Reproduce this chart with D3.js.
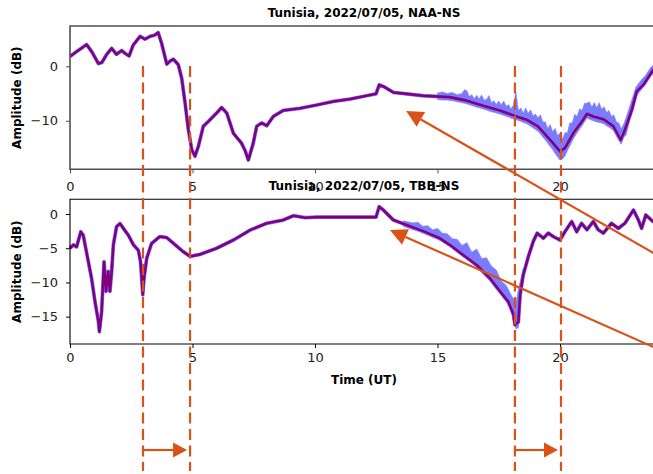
<!DOCTYPE html>
<html>
<head>
<meta charset="utf-8">
<script src="https://cdn.jsdelivr.net/npm/d3@7"></script>
<style>
  html, body { margin: 0; padding: 0; background: #fff; }
  svg { display: block; font-family: 'DejaVu Sans', sans-serif; }
</style>
</head>
<body>
<div class="js-chart"></div>
<script>
'use strict';

// NAA-NS, smoothed amplitude [UT hour, dB]
var naaSmooth = [
    [0, 1.8], [0.3, 2.8], [0.68, 4.0], [0.9, 2.6], [1.16, 0.5], [1.3, 0.7], [1.5, 2.2], [1.7, 3.3],
    [1.9, 2.2], [2.11, 2.9], [2.24, 2.4], [2.41, 1.9], [2.58, 3.9], [2.86, 5.5], [3.06, 5.0], [3.27, 5.5],
    [3.45, 5.7], [3.6, 6.2], [3.74, 4.2], [3.95, 0.4], [4.1, 1.0], [4.22, 1.3], [4.42, 0.3], [4.56, -2.2],
    [4.69, -6.5], [4.83, -11.6], [4.97, -15.3], [5.1, -16.5], [5.24, -14.7], [5.44, -11], [5.65, -10.1],
    [5.85, -9.2], [6.0, -8.5], [6.19, -7.55], [6.4, -8.6], [6.67, -12.3], [7.0, -14.1], [7.15, -15.5],
    [7.28, -17.2], [7.48, -14.1], [7.62, -11], [7.82, -10.4], [8.03, -10.9], [8.3, -9.2], [8.71, -8.1],
    [9.39, -7.7], [10.07, -7.1], [10.75, -6.45], [11.43, -6.0], [12.1, -5.4], [12.49, -5.05], [12.62, -3.4],
    [12.79, -3.7], [13.2, -4.8], [13.74, -5.05], [14.42, -5.4], [15.5, -5.65], [16.2, -6.3], [16.87, -7.25],
    [17.55, -8.1], [18.16, -9.1], [18.64, -9.8], [19.1, -11], [19.6, -13.5], [20.0, -15.6], [20.2, -15.0],
    [20.54, -12.3], [20.9, -10.1], [21.1, -8.7], [21.36, -9.2], [21.77, -9.7], [22.18, -11], [22.48, -13.5],
    [22.65, -11.65], [22.93, -8], [23.13, -4.6], [23.4, -3.4], [23.8, -0.65], [24, 0.2]
];

// NAA-NS, raw data spread where it is noisy [UT hour, low dB, high dB]
var naaRaw = [
    [15.0, -6.1, -4.9], [15.2, -6.2, -4.7], [15.4, -6.2, -5.0], [15.6, -6.3, -4.8], [15.8, -6.5, -5.2],
    [16.0, -6.7, -5.0], [16.1, -6.8, -4.3], [16.2, -6.9, -4.5], [16.3, -7.05, -5.55], [16.4, -7.2, -5.2],
    [16.5, -7.35, -5.95], [16.6, -7.5, -5.3], [16.7, -7.6, -6.0], [16.8, -7.75, -5.25], [16.9, -7.9, -6.2],
    [17.0, -8.0, -6.1], [17.1, -8.2, -5.35], [17.2, -8.35, -6.7], [17.3, -8.45, -6.3], [17.4, -8.55, -7.0],
    [17.5, -8.7, -6.35], [17.6, -8.85, -7.1], [17.7, -9.0, -6.35], [17.8, -9.15, -7.3], [17.9, -9.3, -7.05],
    [18.0, -9.5, -7.85], [18.1, -9.65, -7.1], [18.2, -9.8, -4.65], [18.3, -9.95, -8.1], [18.4, -10.1, -7.65],
    [18.5, -10.3, -8.6], [18.6, -10.45, -7.65], [18.7, -10.7, -8.65], [18.8, -11.0, -8.0], [18.9, -11.3, -9.1],
    [19.0, -11.6, -8.75], [19.1, -11.9, -9.5], [19.2, -12.4, -8.9], [19.3, -13.0, -10.2], [19.4, -13.5, -10.2],
    [19.5, -14.1, -11.4], [19.6, -14.7, -10.7], [19.7, -15.3, -12.0], [19.8, -16.0, -11.4], [19.9, -16.6, -12.7],
    [20.0, -17.2, -12.3], [20.1, -17.0, -13.4], [20.2, -16.5, -12.2], [20.3, -15.5, -12.2], [20.4, -14.6, -10.4],
    [20.5, -13.7, -10.4], [20.6, -12.9, -8.8], [20.7, -12.2, -9.2], [20.8, -11.5, -7.8], [20.9, -10.9, -8.1],
    [21.0, -10.2, -6.8], [21.1, -9.5, -6.8], [21.2, -9.7, -6.5], [21.3, -9.9, -7.5], [21.4, -10.05, -6.65],
    [21.5, -10.2, -7.6], [21.6, -10.3, -6.7], [21.7, -10.4, -7.9], [21.8, -10.6, -7.4], [21.9, -10.9, -8.5],
    [22.0, -11.2, -8.1], [22.1, -11.5, -9.2], [22.2, -11.9, -8.9], [22.3, -12.8, -10.2], [22.4, -13.6, -10.4],
    [22.5, -14.3, -11.5], [22.6, -13.0, -10.6], [22.7, -12.6, -9.4], [22.9, -9.0, -6.6], [23.1, -5.6, -3.8],
    [23.3, -4.4, -2.6], [23.5, -3.2, -1.6], [23.7, -1.8, -0.2], [24.0, -0.5, 0.9]
];

// TBB-NS, smoothed amplitude [UT hour, dB]
var tbbSmooth = [
    [0, -5.0], [0.14, -4.5], [0.27, -4.8], [0.44, -2.6], [0.54, -3.1], [0.68, -5.7], [0.88, -9.4],
    [1.02, -12.8], [1.16, -15.7], [1.2, -17.2], [1.29, -14.3], [1.39, -7.0], [1.47, -11.3], [1.56, -8.4],
    [1.63, -11.3], [1.7, -8.4], [1.77, -4.5], [1.9, -1.85], [2.04, -1.4], [2.18, -2.1], [2.38, -3.1],
    [2.59, -4.5], [2.79, -5.3], [2.88, -7.0], [2.97, -11.8], [3.02, -9.4], [3.13, -6.5], [3.33, -4.3],
    [3.67, -3.3], [3.95, -3.45], [4.29, -4.5], [4.62, -5.5], [4.9, -6.2], [5.31, -5.9], [5.99, -5.0],
    [6.67, -3.8], [7.35, -2.35], [8.03, -1.36], [8.7, -0.88], [9.12, -0.25], [9.6, -0.54], [10.07, -0.45],
    [10.75, -0.45], [11.43, -0.45], [12.04, -0.45], [12.49, -0.45], [12.62, 1.07], [12.79, 0.58],
    [13.2, -0.88], [13.74, -1.6], [14.42, -2.5], [15.1, -3.55], [15.5, -4.5], [16.05, -6.0], [16.6, -7.45],
    [17.14, -9.4], [17.55, -11.3], [17.89, -12.8], [18.1, -14.7], [18.16, -16.2], [18.3, -15.8],
    [18.37, -11.8], [18.5, -8.9], [18.71, -6.2], [18.91, -4.0], [19.07, -2.8], [19.32, -3.55], [19.52, -2.8],
    [19.73, -3.3], [20.0, -3.8], [20.2, -2.6], [20.48, -1.1], [20.68, -2.6], [20.88, -1.36], [21.1, -2.3],
    [21.36, -1.1], [21.56, -2.3], [21.77, -2.8], [22.1, -1.36], [22.38, -2.1], [22.65, -1.36], [23.0, 0.58],
    [23.2, -0.88], [23.33, -2.1], [23.5, -0.15], [23.8, -1.1], [24, -0.8]
];

// TBB-NS, raw data spread where it is noisy [UT hour, low dB, high dB]
var tbbRaw = [
    [13.6, -1.8, -1.0], [14.0, -2.3, -1.3], [14.2, -2.5, -1.2], [14.4, -2.8, -1.8], [14.6, -3.1, -1.7],
    [14.8, -3.4, -2.3], [15.0, -3.7, -2.1], [15.2, -4.0, -2.8], [15.4, -4.4, -2.9], [15.6, -4.9, -3.6],
    [15.8, -5.4, -3.7], [16.0, -6.1, -4.6], [16.2, -6.6, -4.2], [16.4, -7.2, -5.6], [16.6, -7.8, -5.1],
    [16.8, -8.5, -6.5], [17.0, -9.2, -6.4], [17.2, -10.0, -7.6], [17.4, -11.0, -8.2], [17.6, -11.8, -9.8],
    [17.8, -12.8, -10.4], [18.0, -14.0, -11.8], [18.1, -15.5, -12.4], [18.2, -16.8, -13.0],
    [18.3, -16.6, -11.0], [18.4, -13.0, -9.5], [18.5, -9.6, -8.0]
];

var xTicks = [0, 5, 10, 15, 20];
var naaTicks = [0, -10];
var tbbTicks = [0, -5, -10, -15];

// event window edges (UT hour)
var markers = [2.98, 4.9, 18.16, 20.04];
var windows = [[2.98, 4.9], [18.16, 20.04]];

var orange = '#D95319', purple = '#800080', blue = '#7b7bff';

var svg = d3.select('.js-chart').append('svg')
    .attr('width', 653)
    .attr('height', 474);

var x = d3.scaleLinear().domain([0, 24]).range([70, 658]);

var panels = [
    {title: 'Tunisia, 2022/07/05, NAA-NS', smooth: naaSmooth, raw: naaRaw, ticks: naaTicks,
        y: d3.scaleLinear().domain([-18.9, 7.4]).range([169.3, 26]), spine: '#505050', pad: 8},
    {title: 'Tunisia, 2022/07/05, TBB-NS', smooth: tbbSmooth, raw: tbbRaw, ticks: tbbTicks,
        y: d3.scaleLinear().domain([-19.0, 2.15]).range([344, 199.3]), spine: '#000', pad: 5}
];

panels.forEach(function (p, i) {
    var y = p.y;
    var top = y.range()[1], bottom = y.range()[0];
    var g = svg.append('g').attr('class', 'panel-' + i);

    //raw data halo and noisy spread
    var line = d3.line().x(function (d) { return x(d[0]); }).y(function (d) { return y(d[1]); });
    g.append('path').datum(p.smooth)
        .attr('d', line)
        .style('fill', 'none')
        .style('stroke', blue)
        .style('stroke-width', 3.8)
        .style('stroke-linejoin', 'round');
    g.append('path').datum(p.raw)
        .attr('d', d3.area()
            .x(function (d) { return x(d[0]); })
            .y0(function (d) { return y(d[1]); })
            .y1(function (d) { return y(d[2]); }))
        .style('fill', blue)
        .style('stroke', blue)
        .style('stroke-width', 0.6);

    //smoothed curve
    g.append('path').datum(p.smooth)
        .attr('d', line)
        .style('fill', 'none')
        .style('stroke', purple)
        .style('stroke-width', 2.6)
        .style('stroke-linejoin', 'round');

    //axes
    var xa = g.append('g').attr('transform', 'translate(0,' + bottom + ')')
        .call(d3.axisBottom(x).tickValues(xTicks).tickSize(4).tickPadding(p.pad).tickSizeOuter(0));
    var ya = g.append('g').attr('transform', 'translate(70,0)')
        .call(d3.axisLeft(y).tickValues(p.ticks).tickSize(4).tickPadding(8).tickSizeOuter(0));
    [xa, ya].forEach(function (a) {
        a.select('.domain').remove();
        a.selectAll('line').style('stroke', p.spine).style('stroke-width', 1);
        a.selectAll('text').style('font-size', '13px').style('fill', '#222')
            .style('font-family', "'DejaVu Sans', sans-serif");
    });
    g.append('path')
        .attr('d', 'M658,' + top + 'H70V' + bottom + 'H658')
        .style('fill', 'none')
        .style('stroke', p.spine)
        .style('stroke-width', i === 0 ? 1.6 : 1.1);

    g.append('text')
        .text('Amplitude (dB)')
        .attr('transform', 'translate(20.5,' + (top + bottom) / 2 + ') rotate(-90)')
        .attr('text-anchor', 'middle')
        .style('font-weight', 'bold')
        .style('font-size', '12px');

    g.append('text')
        .text(p.title)
        .attr('x', 364)
        .attr('y', top - 9.5)
        .attr('text-anchor', 'middle')
        .style('font-weight', 'bold')
        .style('font-size', '12px');
});

svg.append('text')
    .text('Time (UT)')
    .attr('x', 364)
    .attr('y', 384)
    .attr('text-anchor', 'middle')
    .style('font-weight', 'bold')
    .style('font-size', '12px');

//dashed window edges
svg.selectAll('.js-marker').data(markers).enter().append('line')
    .attr('class', 'js-marker')
    .attr('x1', function (d) { return x(d); })
    .attr('x2', function (d) { return x(d); })
    .attr('y1', 66)
    .attr('y2', 471)
    .style('stroke', orange)
    .style('stroke-width', 2.2)
    .style('stroke-dasharray', '11,5.5');

//arrows
function arrow(x1, y1, x2, y2, len, half) {
    var a = Math.atan2(y2 - y1, x2 - x1);
    var bx = x2 - len * Math.cos(a), by = y2 - len * Math.sin(a);
    svg.append('line')
        .attr('x1', x1).attr('y1', y1).attr('x2', bx).attr('y2', by)
        .style('stroke', orange).style('stroke-width', 2.2);
    svg.append('path')
        .attr('d', 'M' + x2 + ',' + y2 +
            'L' + (bx + half * Math.sin(a)) + ',' + (by - half * Math.cos(a)) +
            'L' + (bx - half * Math.sin(a)) + ',' + (by + half * Math.cos(a)) + 'Z')
        .style('fill', orange);
}

windows.forEach(function (w) {
    arrow(x(w[0]), 450, x(w[1]) - 3, 450, 14, 7.5);
});

// diagonal pointers: tail and tip in each panel's own units
arrow(x(24.1), panels[0].y(-35.0), x(13.72), panels[0].y(-8.2), 17, 8.5);
arrow(x(24.1), panels[1].y(-19.9), x(13.06), panels[1].y(-2.34), 17, 8.5);
</script>
</body>
</html>
